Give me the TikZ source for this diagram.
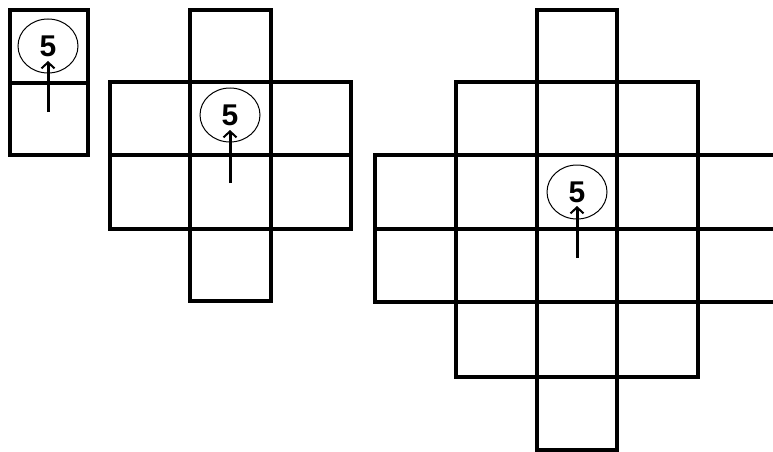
\documentclass[tikz,border=0pt]{standalone}
\usepackage{fontspec}
\setmainfont{Liberation Sans}
\usetikzlibrary{shapes.geometric,arrows.meta}
\tikzset{
  grid/.style={line width=4pt, line join=miter},
  marker/.style={ellipse, draw, line width=1pt, minimum width=60pt, minimum height=54pt,
    inner sep=0pt, font=\fontsize{30}{30}\selectfont\bfseries},
  uparrow/.style={line width=3pt, -{Straight Barb[length=6pt,width=13pt,line width=2pt]}}
}
\begin{document}
\begin{tikzpicture}[x=1pt,y=-1pt]
\fill[white] (0,0) rectangle (773,452);
\useasboundingbox (0,0) rectangle (773,452);
\clip (0,0) rectangle (773,452);
% figure 1
\draw[grid] (10,10) rectangle (88,155);
\draw[grid] (10,83) -- (88,83);
\node[marker] (m1) at (48,46) {5};
% figure 2
\draw[grid] (190,10) rectangle (271,301);
\draw[grid] (110,82) rectangle (351,229);
\draw[grid] (110,155) -- (351,155);
\node[marker] (m2) at (230,115) {5};
% figure 3
\draw[grid] (537,10) rectangle (617,450);
\draw[grid] (456,82) rectangle (698,377);
\draw[grid] (375,155) rectangle (790,302);
\draw[grid] (375,229) -- (790,229);
\node[marker] (m3) at (577,192) {5};
% arrows
\coordinate (s1) at (48,112);
\coordinate (e1) at (48,61);
\draw[uparrow] (s1) -- (e1);
\coordinate (s2) at (230,183);
\coordinate (e2) at (230,130);
\draw[uparrow] (s2) -- (e2);
\coordinate (s3) at (577,258);
\coordinate (e3) at (577,206);
\draw[uparrow] (s3) -- (e3);
\end{tikzpicture}
\end{document}
